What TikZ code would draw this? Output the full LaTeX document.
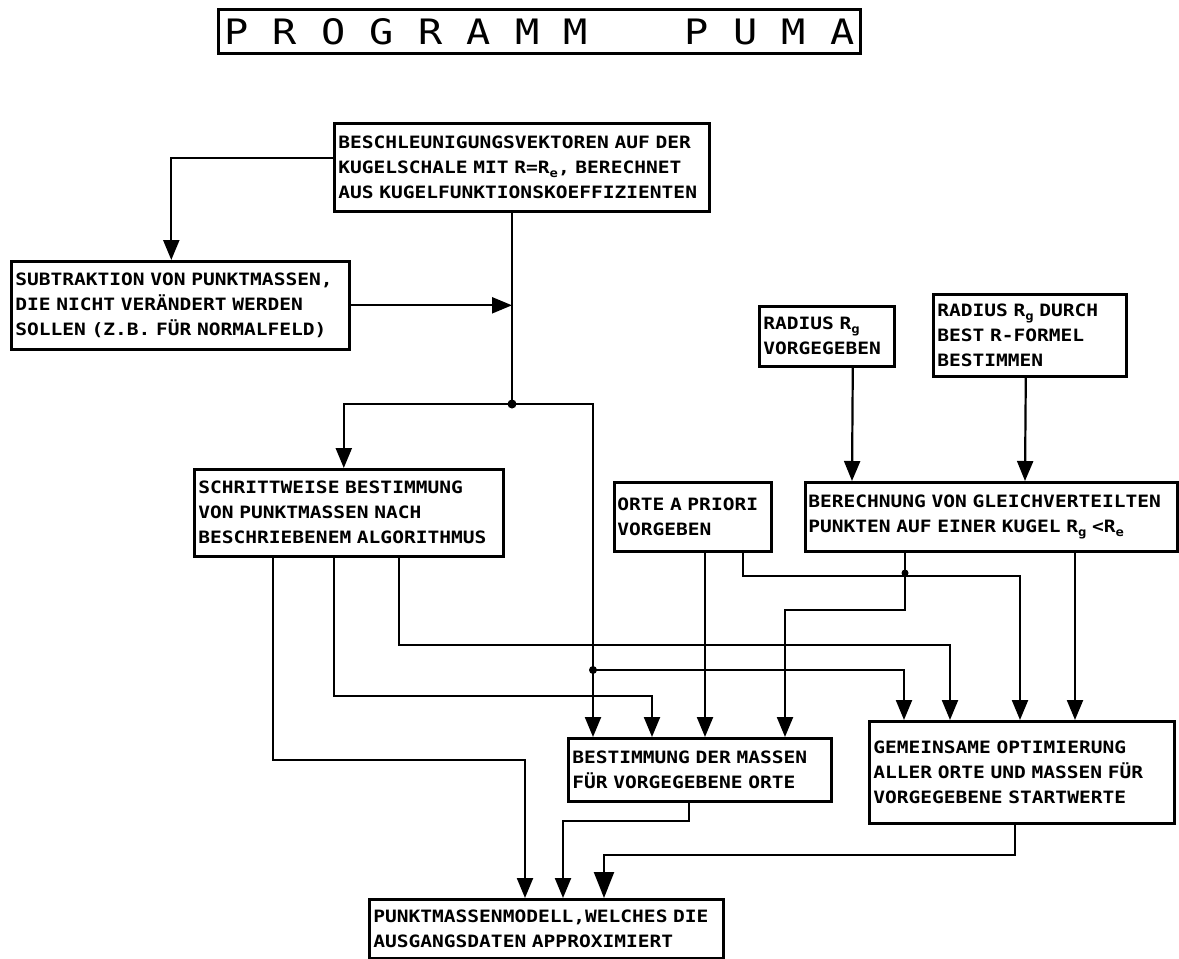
\documentclass[tikz,border=0pt]{standalone}
\usepackage{fontspec}
\usepackage{tikz}
\usetikzlibrary{arrows.meta}
\newfontfamily\schablone[FakeStretch=1.15]{DejaVu Sans Mono}
\newcommand{\tiefidx}[1]{\raisebox{-0.4ex}{\fontsize{12}{12}\selectfont\bfseries #1}}

\begin{document}
\begin{tikzpicture}[x=1pt,y=-1pt,
    kasten/.style={draw,line width=2.6pt,anchor=north west,align=left,inner xsep=4pt,inner ysep=2pt,
      font={\schablone\bfseries\fontsize{17}{25}\selectfont}},
    linie/.style={line width=2.2pt},
    pfeil/.style={linie,-{Triangle[length=20pt,width=16pt]}},
    grosspfeil/.style={linie,-{Triangle[length=26pt,width=20pt]}}]
  \useasboundingbox (0,0) rectangle (1179,959);
  \node[kasten,font={\schablone\fontsize{35}{40}\selectfont},inner xsep=6pt,minimum height=44pt] (titel) at (217,8) {P~R~O~G~R~A~M~M~~~~P~U~M~A};
  \node[kasten,text width=367pt,minimum height=88pt] (vektoren) at (333,122) {BESCHLEUNIGUNGSVEKTOREN AUF DER\\KUGELSCHALE MIT R=R\tiefidx{e}, BERECHNET\\AUS KUGELFUNKTIONSKOEFFIZIENTEN};
  \node[kasten,text width=330pt,minimum height=88pt] (subtraktion) at (10,260) {SUBTRAKTION VON PUNKTMASSEN,\\DIE NICHT VERÄNDERT WERDEN\\SOLLEN (Z.B. FÜR NORMALFELD)};
  \node[kasten,text width=301pt,minimum height=87pt] (schritt) at (193,468) {SCHRITTWEISE BESTIMMUNG\\VON PUNKTMASSEN NACH\\BESCHRIEBENEM ALGORITHMUS};
  \node[kasten,text width=127pt,minimum height=60pt] (radiusvor) at (758,305) {RADIUS R\tiefidx{g}\\VORGEGEBEN};
  \node[kasten,text width=185pt,minimum height=82pt] (radiusbest) at (932,293) {RADIUS R\tiefidx{g} DURCH\\BEST R-FORMEL\\BESTIMMEN};
  \node[kasten,text width=151pt,inner xsep=3pt,minimum height=69pt] (orte) at (613,481) {ORTE A PRIORI\\VORGEBEN};
  \node[kasten,text width=366pt,inner xsep=3pt,minimum height=69pt] (gleich) at (804,481) {BERECHNUNG VON GLEICHVERTEILTEN\\PUNKTEN AUF EINER KUGEL R\tiefidx{g} <R\tiefidx{e}};
  \node[kasten,text width=255pt,minimum height=63pt] (massen) at (567,737) {BESTIMMUNG DER MASSEN\\FÜR VORGEGEBENE ORTE};
  \node[kasten,text width=297pt,minimum height=102pt] (optim) at (868,720) {GEMEINSAME OPTIMIERUNG\\ALLER ORTE UND MASSEN FÜR\\VORGEGEBENE STARTWERTE};
  \node[kasten,text width=346pt,minimum height=59pt] (modell) at (368,898) {PUNKTMASSENMODELL,WELCHES DIE\\AUSGANGSDATEN APPROXIMIERT};

  \coordinate (k1) at (512,404);
  \coordinate (k2) at (593,670);
  \coordinate (k3) at (905,573);

  % Hauptstrang
  \draw[pfeil] ([yshift=9pt]vektoren.west) -| ([xshift=-9pt]subtraktion.north);
  \draw[pfeil] (subtraktion.east) -- (subtraktion.east -| k1);
  \draw[linie] (vektoren.south -| k1) -- (k1);
  \draw[pfeil] (k1) -| ([xshift=-5pt]schritt.north);
  \draw[linie] (k1) -| (k2);
  \draw[pfeil] (k2) -- (k2 |- massen.north);
  \draw[pfeil] (k2) -| ([xshift=36pt]optim.north west);
  \fill (k1) circle (4.5pt);
  \fill (k2) circle (4pt);

  % Radius
  \draw[pfeil] ([xshift=26pt]radiusvor.south) -- ([xshift=48pt]gleich.north west);
  \draw[pfeil] ([xshift=-4pt]radiusbest.south) -- ([xshift=221pt]gleich.north west);

  % aus der schrittweisen Bestimmung
  \draw[pfeil] ([xshift=80pt]schritt.south west) -- ++(0,202) -| ([xshift=157pt]modell.north west);
  \draw[pfeil] ([xshift=141pt]schritt.south west) -- ++(0,138) -| ([xshift=85pt]massen.north west);
  \draw[pfeil] ([xshift=206pt]schritt.south west) -- ++(0,87) -| ([xshift=82pt]optim.north west);

  % Orte und Kugelpunkte
  \draw[pfeil] ([xshift=92pt]orte.south west) -- ([xshift=138pt]massen.north west);
  \draw[pfeil] ([xshift=130pt]orte.south west) -- ++(0,23) -| ([xshift=152pt]optim.north west);
  \draw[pfeil] ([xshift=101pt]gleich.south west) -- ++(0,57) -| ([xshift=218pt]massen.north west);
  \draw[pfeil] ([xshift=271pt]gleich.south west) -- ([xshift=207pt]optim.north west);
  \fill (k3) circle (3.5pt);

  % zum Modell
  \draw[pfeil] ([xshift=122pt]massen.south west) -- ++(0,18) -| ([xshift=195pt]modell.north west);
  \draw[grosspfeil] ([xshift=147pt]optim.south west) -- ++(0,30) -| ([xshift=236pt]modell.north west);
\end{tikzpicture}
\end{document}
